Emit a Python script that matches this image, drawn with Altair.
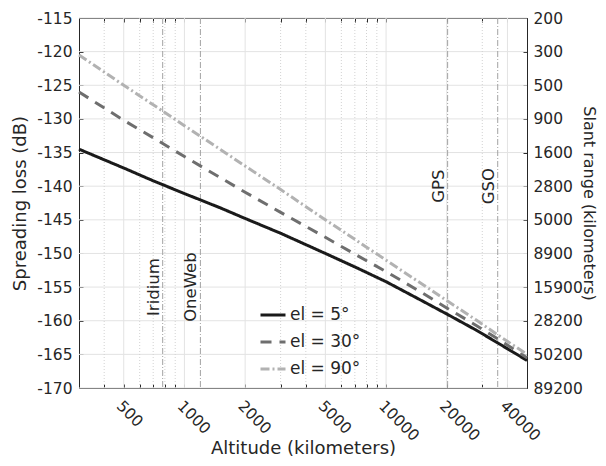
import json
import altair as alt
import pandas as pd

# ---------------- data ----------------
altitude_km = [300, 500, 700, 1000, 1500, 2000, 3000, 5000, 7000, 10000, 15000, 20000, 28000, 35786, 50000]
loss_el5 = [-134.5, -137.3, -139.2, -141.1, -143.2, -144.8, -147.0, -150.0, -152.0, -154.2, -157.0, -159.0, -161.4, -163.3, -165.9]
loss_el30 = [-126.0, -130.2, -132.8, -135.6, -138.7, -140.9, -143.9, -147.6, -150.1, -152.7, -155.8, -158.1, -160.7, -162.7, -165.5]
loss_el90 = [-120.5, -125.0, -127.9, -131.0, -134.5, -137.0, -140.5, -145.0, -147.9, -151.0, -154.5, -157.0, -159.9, -162.1, -165.0]
series_labels = ["el = 5°", "el = 30°", "el = 90°"]

orbit_names = ["Iridium", "OneWeb", "GPS", "GSO"]
orbit_altitude_km = [780, 1200, 20200, 35786]
orbit_label_db = [-155, -155, -140, -140]

x_tick_values = [500, 1000, 2000, 5000, 10000, 20000, 40000]
x_minor_values = [400, 600, 700, 800, 900, 3000, 4000, 6000, 7000, 8000, 9000, 30000]
y_tick_values = [-115, -120, -125, -130, -135, -140, -145, -150, -155, -160, -165, -170]
slant_range_labels = ["200", "300", "500", "900", "1600", "2800", "5000",
                      "8900", "15900", "28200", "50200", "89200"]

# ---------------- styling ----------------
FONT = "DejaVu Sans"
INK = "#262626"
W, H = 448, 370
series_colors = ["#1a1a1a", "#6e6e6e", "#b2b2b2"]
series_dashes = [[1, 0], [11, 8], [9, 3, 2, 3]]

rows = []
for lab, vals in zip(series_labels, [loss_el5, loss_el30, loss_el90]):
    for a, v in zip(altitude_km, vals):
        rows.append({"alt": a, "loss": v, "series": lab})
lines_df = pd.DataFrame(rows)
major_df = pd.DataFrame({"v": x_tick_values})
minor_df = pd.DataFrame({"v": x_minor_values})
hgrid_df = pd.DataFrame({"db": y_tick_values})
orbit_df = pd.DataFrame({"alt": orbit_altitude_km, "db": orbit_label_db, "name": orbit_names})

xs = alt.Scale(type="log", domain=[300, 50000], nice=False)
ys = alt.Scale(domain=[-170, -115], nice=False)
all_x_ticks = sorted(x_tick_values + x_minor_values)

def tick_axis(orient, values, offset):
    return alt.Axis(orient=orient, offset=offset, values=values, labels=False,
                    domain=False, grid=False, ticks=True, tickSize=4,
                    tickColor=INK, title=None)

hgrid = alt.Chart(hgrid_df).mark_rule(color="#e3e3e3", strokeWidth=1).encode(
    y=alt.Y("db:Q", scale=ys, axis=tick_axis("right", y_tick_values, -W)))
hgrid_r = alt.Chart(hgrid_df).mark_rule(opacity=0).encode(
    y=alt.Y("db:Q", scale=ys, axis=tick_axis("left", y_tick_values, -W)))
vmajor = alt.Chart(major_df).mark_rule(color="#e3e3e3", strokeWidth=1).encode(
    x=alt.X("v:Q", scale=xs, axis=tick_axis("top", all_x_ticks, -H)))
vminor = alt.Chart(minor_df).mark_rule(color="#d2d2d2", strokeWidth=1, strokeDash=[1, 2]).encode(
    x=alt.X("v:Q", scale=xs, axis=tick_axis("bottom", all_x_ticks, -H)))

orbits = alt.Chart(orbit_df).mark_rule(color="#a3a3a3", strokeWidth=1, strokeDash=[6, 2, 1, 2]).encode(
    x=alt.X("alt:Q", scale=xs, axis=None))

label_expr = "{}[indexof({}, datum.value)]".format(json.dumps(slant_range_labels), json.dumps(y_tick_values))
orbit_text = alt.Chart(orbit_df).mark_text(
    angle=270, align="center", baseline="bottom", font=FONT, fontSize=16.5, color=INK, dy=-1
).encode(
    x=alt.X("alt:Q", scale=xs, axis=None),
    y=alt.Y("db:Q", scale=ys, axis=alt.Axis(
        orient="right", values=y_tick_values, labelExpr=label_expr, tickSize=0,
        labelPadding=6, labelAlign="left", domain=False, grid=False,
        title="Slant range (kilometers)", titleAngle=90, titleX=56, titleY=H / 2,
        titleFontSize=16, titleBaseline="alphabetic", titleAlign="center")),
    text="name:N")

legend = alt.Legend(title=None, orient="none", legendX=180, legendY=283,
                    symbolType="stroke", symbolSize=625, symbolStrokeWidth=3,
                    labelFont=FONT, labelFontSize=17, labelColor=INK,
                    rowPadding=5, padding=0, labelOffset=3)
lines = alt.Chart(lines_df).mark_line(strokeWidth=3).encode(
    x=alt.X("alt:Q", scale=xs, axis=alt.Axis(
        orient="bottom", values=x_tick_values, labelAngle=45, labelAlign="left",
        labelBaseline="top", labelPadding=10, tickSize=0, domain=False, grid=False,
        format="d", labelFlush=False, labelOverlap=False,
        title="Altitude (kilometers)", titleY=65, titleBaseline="alphabetic")),
    y=alt.Y("loss:Q", scale=ys, axis=alt.Axis(
        orient="left", values=y_tick_values, labelExpr="'' + datum.value",
        tickSize=0, labelPadding=7, domain=False, grid=False,
        title="Spreading loss (dB)", titleX=-54, titleY=H / 2,
        titleBaseline="alphabetic", titleAlign="center")),
    color=alt.Color("series:N", scale=alt.Scale(domain=series_labels, range=series_colors), legend=legend),
    strokeDash=alt.StrokeDash("series:N", scale=alt.Scale(domain=series_labels, range=series_dashes), legend=legend),
    order=alt.Order("series:N"),
)

chart = alt.layer(hgrid, hgrid_r, vmajor, vminor, orbits, orbit_text, lines).resolve_axis(
    x="independent", y="independent"
).properties(
    width=W, height=H,
    autosize=alt.AutoSizeParams(type="none"),
    padding={"left": 71, "top": 10, "right": 71, "bottom": 70},
).configure_view(stroke=INK, strokeWidth=1).configure_axis(
    labelFont=FONT, titleFont=FONT, labelFontSize=15.5, titleFontSize=18,
    labelColor=INK, titleColor=INK, titleFontWeight="normal", tickColor=INK,
)

chart.save("out.html", embed_options={"renderer": "svg", "actions": False})
